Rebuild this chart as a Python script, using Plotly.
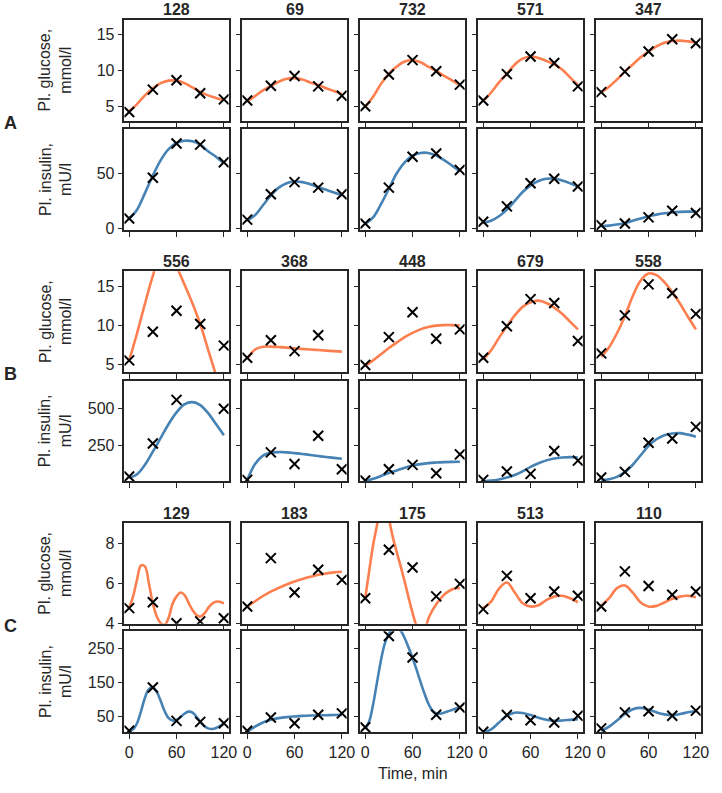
import plotly.graph_objects as go

# sample times of the measurements (min)
times = [0, 30, 60, 90, 120]

# subject ids, one group per two rows
ids_A = ['128', '69', '732', '571', '347']
ids_B = ['556', '368', '448', '679', '558']
ids_C = ['129', '183', '175', '513', '110']

# measured values (x markers), None = missing sample
glucose_obs_A = [
    [4.2, 7.3, 8.6, 6.8, 5.95],
    [5.8, 7.85, 9.2, 7.75, 6.45],
    [5.0, 9.4, 11.4, 9.85, 8.0],
    [5.8, 9.45, 11.9, 11.0, 7.75],
    [6.95, 9.8, 12.6, 14.3, 13.75],
]
insulin_obs_A = [
    [9, 46, 77, 76, 60],
    [8, 31, 42, 37, 31],
    [4.5, 37, 65, 68, 53],
    [6, 20, 41, 45, 38],
    [3, 4.5, 10, 16, 14],
]
glucose_obs_B = [
    [5.5, 9.2, 11.9, 10.2, 7.4],
    [5.85, 8.1, 6.7, 8.75, None],
    [4.9, 8.5, 11.7, 8.3, 9.5],
    [5.85, 9.9, 13.4, 12.9, 8.0],
    [6.4, 11.3, 15.3, 14.15, 11.5],
]
insulin_obs_B = [
    [34, 261, 561, None, 500],
    [11, 200, 120, 314, 84],
    [7, 84, 114, 57, 186],
    [11, 68, 52, 209, 143],
    [27, 66, 266, 295, 375],
]
glucose_obs_C = [
    [4.78, 5.07, 4.03, 4.12, 4.28],
    [4.86, 7.26, 5.55, 6.68, 6.18],
    [5.27, 7.67, 6.79, 5.36, 5.98],
    [4.73, 6.38, 5.27, 5.6, 5.39],
    [4.86, 6.6, 5.88, 5.44, 5.6],
]
insulin_obs_C = [
    [8, 135, 37, 34, 30],
    [8, 47, 30, 55, 59],
    [18, 286, 223, 55, 76],
    [5, 54, 39, 32, 52],
    [15, 62, 65, 52, 67],
]

# model fits at even steps from 0 to 120 min
glucose_fit_A = [
    [4.3, 5.3, 6.5, 7.5, 8.2, 8.55, 8.55, 8.2, 7.6, 7.0, 6.5, 6.15, 5.85],
    [5.7, 6.4, 7.2, 7.8, 8.4, 8.8, 8.9, 8.7, 8.3, 7.95, 7.5, 7.1, 6.7],
    [4.9, 6.3, 8.1, 9.5, 10.5, 11.2, 11.4, 11.1, 10.5, 9.9, 9.2, 8.6, 7.95],
    [5.7, 6.9, 8.3, 9.5, 10.8, 11.6, 11.9, 11.7, 11.3, 10.8, 10.1, 9.0, 7.95],
    [6.9, 7.7, 8.7, 9.8, 10.8, 11.8, 12.6, 13.3, 13.8, 14.05, 14.1, 14.0, 13.85],
]
insulin_fit_A = [
    [9, 17, 32, 48, 62, 72, 77.5, 79.5, 79, 76, 70, 65, 59],
    [7, 12, 21, 30, 37, 41, 42.5, 42, 40, 37.5, 35, 32.5, 30],
    [4, 10, 22, 36, 50, 60, 66, 68.5, 68.5, 66, 62, 57, 52],
    [5, 7, 11, 17, 25, 33, 39, 43, 45, 45, 43.5, 41, 38],
    [2, 2.5, 3.5, 5, 7, 9, 11, 12.5, 13.7, 14.5, 15, 15.2, 15.2],
]
glucose_fit_B = [
    [5.5, 9.0, 12.8, 16.4, 19.2, 19.6, 17.6, 15.3, 12.9, 10.2, 6.9, 3.6, 0.5],
    [5.7, 6.9, 7.25, 7.28, 7.22, 7.15, 7.05, 6.98, 6.9, 6.83, 6.76, 6.7, 6.63],
    [4.8, 5.5, 6.3, 7.1, 7.8, 8.5, 9.05, 9.5, 9.8, 9.98, 10.05, 10.05, 10.0],
    [5.6, 6.8, 8.4, 9.9, 11.3, 12.4, 13.0, 13.2, 12.9, 12.3, 11.5, 10.5, 9.5],
    [6.0, 7.2, 9.0, 11.2, 13.8, 15.8, 16.7, 16.5, 15.6, 14.3, 12.8, 11.1, 9.5],
]
insulin_fit_B = [
    [23, 50, 115, 205, 300, 395, 475, 530, 545, 525, 470, 395, 318],
    [10, 120, 178, 198, 202, 200, 195, 189, 182, 175, 168, 162, 156],
    [0, 18, 38, 58, 76, 95, 110, 119, 126, 130, 133, 135, 136],
    [3, 6, 14, 27, 45, 70, 100, 125, 145, 158, 165, 167, 165],
    [7, 15, 32, 64, 115, 180, 245, 290, 318, 330, 332, 322, 307],
]
glucose_fit_C = [
    [4.78, 5.36, 6.2, 6.9, 6.85, 6.0, 5.02, 4.36, 4.03, 3.95, 4.3, 5.0, 5.36,
     5.55, 5.44, 5.06, 4.7, 4.45, 4.36, 4.5, 4.78, 5.0, 5.1, 5.09, 5.0],
    [4.86, 5.12, 5.38, 5.6, 5.78, 5.95, 6.1, 6.22, 6.33, 6.43, 6.5, 6.55, 6.58],
    [5.27, 6.6, 7.9, 8.9, 10.1, 10.4, 9.25, 8.3, 7.55, 6.85, 6.1, 5.3, 4.55,
     3.9, 3.5, 3.65, 4.25, 4.65, 4.97, 5.22, 5.45, 5.6, 5.7, 5.76, 5.78],
    [4.78, 5.1, 5.75, 6.05, 5.55, 5.02, 4.86, 4.92, 5.18, 5.36, 5.39, 5.27, 5.07],
    [4.89, 5.27, 5.77, 5.9, 5.55, 5.06, 4.86, 4.89, 5.06, 5.24, 5.35, 5.39, 5.32],
]
insulin_fit_C = [
    [6, 12, 30, 65, 105, 130, 135, 122, 95, 65, 45, 38, 40,
     48, 58, 64, 62, 50, 35, 22, 15, 13, 16, 22, 29],
    [5, 20, 32, 40, 45, 48, 50, 51.5, 52.5, 53, 53.5, 54, 54.5],
    [13, 35, 85, 150, 215, 265, 292, 310, 312, 302, 280, 252, 222,
     188, 152, 118, 88, 68, 59, 58, 61, 65, 69, 73, 77],
    [3, 12, 32, 52, 61, 60, 54, 46, 40, 37, 38, 40, 42],
    [8, 20, 38, 57, 71, 75, 70, 62, 56, 54, 57, 62, 66],
]

row_obs = [glucose_obs_A, insulin_obs_A, glucose_obs_B, insulin_obs_B, glucose_obs_C, insulin_obs_C]
row_fit = [glucose_fit_A, insulin_fit_A, glucose_fit_B, insulin_fit_B, glucose_fit_C, insulin_fit_C]
row_ids = [ids_A, None, ids_B, None, ids_C, None]
groups = ['A', 'B', 'C']

y_ranges = [[3, 17], [-1.5, 90], [4, 17], [0, 693], [4, 9], [4, 300]]
y_ticks = [[5, 10, 15], [0, 50], [5, 10, 15], [250, 500], [4, 6, 8], [50, 150, 250]]
y_titles = ['Pl. glucose,<br>mmol/l', 'Pl. insulin,<br>mU/l'] * 3

W, H = 722, 793
col_left = [126, 245.5, 365, 484.5, 604]
col_w = 105.5
row_top = [20, 130.7, 274.3, 385, 529, 638.5]
row_h = 102

ORANGE = '#fd7f4f'
BLUE = '#4682b4'
DARK = '#262626'
FONT = 'Liberation Sans, Arial, sans-serif'
FS = 16

fig = go.Figure()
layout = dict(
    width=W, height=H,
    margin=dict(l=0, r=0, t=0, b=0),
    paper_bgcolor='white', plot_bgcolor='white',
    showlegend=False,
    font=dict(family=FONT, size=FS, color=DARK),
)
annotations = []

for r in range(6):
    top = row_top[r]
    for c in range(5):
        idx = r * 5 + c + 1
        sfx = '' if idx == 1 else str(idx)
        left = col_left[c]

        fit = row_fit[r][c]
        n = len(fit)
        t_fit = [120 * i / (n - 1) for i in range(n)]
        color = ORANGE if r % 2 == 0 else BLUE
        fig.add_trace(go.Scatter(
            x=t_fit, y=fit, mode='lines',
            line=dict(color=color, width=2.6, shape='spline', smoothing=1.0),
            xaxis='x' + sfx, yaxis='y' + sfx, hoverinfo='skip'))
        fig.add_trace(go.Scatter(
            x=times, y=row_obs[r][c], mode='markers',
            marker=dict(symbol='x-thin', size=10, line=dict(width=2, color='black')),
            xaxis='x' + sfx, yaxis='y' + sfx))

        axis_common = dict(
            showline=True, mirror=True, linecolor=DARK, linewidth=1.5,
            ticks='outside', ticklen=5, tickwidth=1.3, tickcolor=DARK,
            showgrid=False, zeroline=False,
            tickfont=dict(size=FS, color=DARK, family=FONT),
        )
        layout['xaxis' + sfx] = dict(
            axis_common,
            domain=[left / W, (left + col_w) / W],
            anchor='y' + sfx,
            range=[-6, 126], tickvals=[0, 60, 120],
            showticklabels=(r == 5),
        )
        layout['yaxis' + sfx] = dict(
            axis_common,
            domain=[1 - (top + row_h) / H, 1 - top / H],
            anchor='x' + sfx,
            range=y_ranges[r], tickvals=y_ticks[r],
            showticklabels=(c == 0),
        )

        if row_ids[r] is not None:
            annotations.append(dict(
                x=(left + col_w / 2) / W, y=1 - (top - 10) / H,
                xref='paper', yref='paper', xanchor='center', yanchor='middle',
                text='<b>%s</b>' % row_ids[r][c], showarrow=False,
                font=dict(size=FS, color=DARK, family=FONT)))

    annotations.append(dict(
        x=56 / W, y=1 - (top + row_h / 2) / H,
        xref='paper', yref='paper', xanchor='center', yanchor='middle',
        text=y_titles[r], textangle=-90, showarrow=False,
        font=dict(size=FS, color=DARK, family=FONT)))

for g, name in enumerate(groups):
    mid = (row_top[2 * g] + row_h + row_top[2 * g + 1]) / 2 - 2
    annotations.append(dict(
        x=11 / W, y=1 - mid / H, xref='paper', yref='paper',
        xanchor='center', yanchor='middle',
        text='<b>%s</b>' % name, showarrow=False,
        font=dict(size=18, color=DARK, family=FONT)))

annotations.append(dict(
    x=(col_left[2] + col_w / 2) / W, y=1 - 782 / H,
    xref='paper', yref='paper', xanchor='center', yanchor='middle',
    text='Time, min', showarrow=False,
    font=dict(size=FS, color=DARK, family=FONT)))

layout['annotations'] = annotations
fig.update_layout(**layout)
# the page body has a default 8px margin; drop it so the figure sits at the corner
fig.write_html('out.html', config={'displayModeBar': False},
               post_script="document.body.style.margin='0';")
